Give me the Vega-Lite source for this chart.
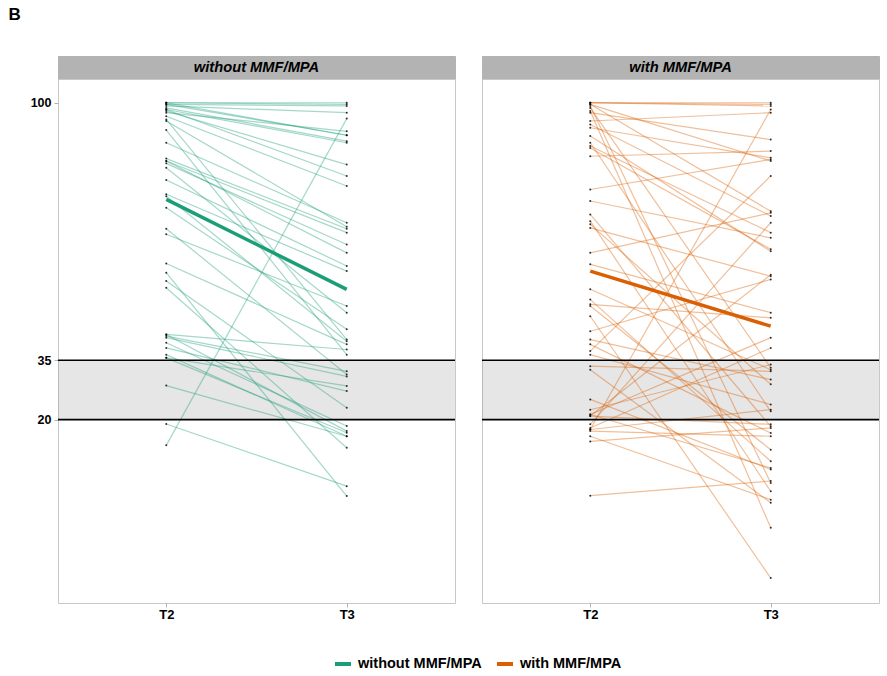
{
  "$schema": "https://vega.github.io/schema/vega-lite/v6.json",
  "background": "white",
  "padding": 5,
  "title": {"text": "B", "anchor": "start", "fontSize": 17, "fontWeight": "bold", "font": "Liberation Sans", "color": "black", "offset": 32, "dx": 3},
  "config": {
    "font": "Liberation Sans",
    "view": {"stroke": "#c8c8c8"},
    "axis": {"gridColor": "#e6e6e6", "domain": false, "title": null}
  },
  "datasets": {
    "lines": [
      {"g": "without MMF/MPA", "id": 1, "T2": 100, "T3": 100},
      {"g": "without MMF/MPA", "id": 2, "T2": 100, "T3": 99.6},
      {"g": "without MMF/MPA", "id": 3, "T2": 100, "T3": 91.8},
      {"g": "without MMF/MPA", "id": 4, "T2": 99.6, "T3": 99.2},
      {"g": "without MMF/MPA", "id": 5, "T2": 99.6, "T3": 91.8},
      {"g": "without MMF/MPA", "id": 6, "T2": 99.2, "T3": 97.5},
      {"g": "without MMF/MPA", "id": 7, "T2": 98.7, "T3": 90.3},
      {"g": "without MMF/MPA", "id": 8, "T2": 98.3, "T3": 89.9},
      {"g": "without MMF/MPA", "id": 9, "T2": 98.3, "T3": 81.5},
      {"g": "without MMF/MPA", "id": 10, "T2": 97.9, "T3": 84.4},
      {"g": "without MMF/MPA", "id": 11, "T2": 97.5, "T3": 92.8},
      {"g": "without MMF/MPA", "id": 12, "T2": 96.6, "T3": 79.0},
      {"g": "without MMF/MPA", "id": 13, "T2": 95.8, "T3": 40.2},
      {"g": "without MMF/MPA", "id": 14, "T2": 95.4, "T3": 68.7},
      {"g": "without MMF/MPA", "id": 15, "T2": 93.1, "T3": 36.4},
      {"g": "without MMF/MPA", "id": 16, "T2": 89.9, "T3": 69.7},
      {"g": "without MMF/MPA", "id": 17, "T2": 85.9, "T3": 68.2},
      {"g": "without MMF/MPA", "id": 18, "T2": 85.3, "T3": 67.2},
      {"g": "without MMF/MPA", "id": 19, "T2": 85.3, "T3": 62.1},
      {"g": "without MMF/MPA", "id": 20, "T2": 84.7, "T3": 64.2},
      {"g": "without MMF/MPA", "id": 21, "T2": 83.6, "T3": 47.0},
      {"g": "without MMF/MPA", "id": 22, "T2": 80.5, "T3": 58.8},
      {"g": "without MMF/MPA", "id": 23, "T2": 76.9, "T3": 57.5},
      {"g": "without MMF/MPA", "id": 24, "T2": 76.4, "T3": 39.8},
      {"g": "without MMF/MPA", "id": 25, "T2": 73.5, "T3": 42.8},
      {"g": "without MMF/MPA", "id": 26, "T2": 68.2, "T3": 31.4},
      {"g": "without MMF/MPA", "id": 27, "T2": 66.8, "T3": 48.7},
      {"g": "without MMF/MPA", "id": 28, "T2": 59.4, "T3": 39.0},
      {"g": "without MMF/MPA", "id": 29, "T2": 57.1, "T3": 0.7},
      {"g": "without MMF/MPA", "id": 30, "T2": 55.0, "T3": 23.0},
      {"g": "without MMF/MPA", "id": 31, "T2": 53.3, "T3": 12.9},
      {"g": "without MMF/MPA", "id": 32, "T2": 41.5, "T3": 37.7},
      {"g": "without MMF/MPA", "id": 33, "T2": 41.5, "T3": 17.1},
      {"g": "without MMF/MPA", "id": 34, "T2": 41.1, "T3": 32.2},
      {"g": "without MMF/MPA", "id": 35, "T2": 40.7, "T3": 30.9},
      {"g": "without MMF/MPA", "id": 36, "T2": 39.4, "T3": 18.4},
      {"g": "without MMF/MPA", "id": 37, "T2": 38.1, "T3": 27.2},
      {"g": "without MMF/MPA", "id": 38, "T2": 36.4, "T3": 15.8},
      {"g": "without MMF/MPA", "id": 39, "T2": 35.6, "T3": 16.7},
      {"g": "without MMF/MPA", "id": 40, "T2": 35.6, "T3": 28.5},
      {"g": "without MMF/MPA", "id": 41, "T2": 28.6, "T3": 15.8},
      {"g": "without MMF/MPA", "id": 42, "T2": 18.9, "T3": 3.2},
      {"g": "without MMF/MPA", "id": 43, "T2": 13.5, "T3": 96.0},
      {"g": "with MMF/MPA", "id": 101, "T2": 100, "T3": 100},
      {"g": "with MMF/MPA", "id": 102, "T2": 100, "T3": 99.6},
      {"g": "with MMF/MPA", "id": 103, "T2": 100, "T3": 99.2},
      {"g": "with MMF/MPA", "id": 104, "T2": 99.6, "T3": 85.3},
      {"g": "with MMF/MPA", "id": 105, "T2": 99.6, "T3": 72.6},
      {"g": "with MMF/MPA", "id": 106, "T2": 99.2, "T3": 4.0},
      {"g": "with MMF/MPA", "id": 107, "T2": 98.7, "T3": 33.1},
      {"g": "with MMF/MPA", "id": 108, "T2": 97.9, "T3": -7.3},
      {"g": "with MMF/MPA", "id": 109, "T2": 97.5, "T3": 90.7},
      {"g": "with MMF/MPA", "id": 110, "T2": 95.4, "T3": 97.5},
      {"g": "with MMF/MPA", "id": 111, "T2": 94.5, "T3": 71.4},
      {"g": "with MMF/MPA", "id": 112, "T2": 93.7, "T3": 86.1},
      {"g": "with MMF/MPA", "id": 113, "T2": 91.6, "T3": 62.5},
      {"g": "with MMF/MPA", "id": 114, "T2": 89.9, "T3": 22.1},
      {"g": "with MMF/MPA", "id": 115, "T2": 89.1, "T3": 67.2},
      {"g": "with MMF/MPA", "id": 116, "T2": 88.6, "T3": 63.0},
      {"g": "with MMF/MPA", "id": 117, "T2": 86.5, "T3": 87.8},
      {"g": "with MMF/MPA", "id": 118, "T2": 78.1, "T3": 85.7},
      {"g": "with MMF/MPA", "id": 119, "T2": 75.2, "T3": 65.9},
      {"g": "with MMF/MPA", "id": 120, "T2": 71.8, "T3": 18.3},
      {"g": "with MMF/MPA", "id": 121, "T2": 70.1, "T3": 1.9},
      {"g": "with MMF/MPA", "id": 122, "T2": 69.3, "T3": 28.9},
      {"g": "with MMF/MPA", "id": 123, "T2": 68.4, "T3": 56.2},
      {"g": "with MMF/MPA", "id": 124, "T2": 62.1, "T3": 72.2},
      {"g": "with MMF/MPA", "id": 125, "T2": 59.2, "T3": 47.0},
      {"g": "with MMF/MPA", "id": 126, "T2": 52.9, "T3": 32.6},
      {"g": "with MMF/MPA", "id": 127, "T2": 50.3, "T3": 9.5},
      {"g": "with MMF/MPA", "id": 128, "T2": 49.1, "T3": 45.7},
      {"g": "with MMF/MPA", "id": 129, "T2": 48.7, "T3": 12.4},
      {"g": "with MMF/MPA", "id": 130, "T2": 46.1, "T3": -20.0},
      {"g": "with MMF/MPA", "id": 131, "T2": 42.3, "T3": 55.4},
      {"g": "with MMF/MPA", "id": 132, "T2": 40.2, "T3": 30.1},
      {"g": "with MMF/MPA", "id": 133, "T2": 39.0, "T3": 16.6},
      {"g": "with MMF/MPA", "id": 134, "T2": 37.3, "T3": 81.5},
      {"g": "with MMF/MPA", "id": 135, "T2": 36.4, "T3": 23.8},
      {"g": "with MMF/MPA", "id": 136, "T2": 33.5, "T3": 32.2},
      {"g": "with MMF/MPA", "id": 137, "T2": 32.6, "T3": -1.0},
      {"g": "with MMF/MPA", "id": 138, "T2": 25.1, "T3": 7.4},
      {"g": "with MMF/MPA", "id": 139, "T2": 22.5, "T3": 33.9},
      {"g": "with MMF/MPA", "id": 140, "T2": 21.3, "T3": 7.8},
      {"g": "with MMF/MPA", "id": 141, "T2": 21.3, "T3": 40.7},
      {"g": "with MMF/MPA", "id": 142, "T2": 20.9, "T3": 56.6},
      {"g": "with MMF/MPA", "id": 143, "T2": 20.9, "T3": 18.8},
      {"g": "with MMF/MPA", "id": 144, "T2": 18.8, "T3": 69.7},
      {"g": "with MMF/MPA", "id": 145, "T2": 17.9, "T3": 38.1},
      {"g": "with MMF/MPA", "id": 146, "T2": 17.5, "T3": 98.3},
      {"g": "with MMF/MPA", "id": 147, "T2": 17.5, "T3": 22.5},
      {"g": "with MMF/MPA", "id": 148, "T2": 17.1, "T3": 15.8},
      {"g": "with MMF/MPA", "id": 149, "T2": 14.5, "T3": 17.9},
      {"g": "with MMF/MPA", "id": 150, "T2": 15.8, "T3": -0.2},
      {"g": "with MMF/MPA", "id": 151, "T2": 0.8, "T3": 4.5}
    ],
    "means": [
      {"g": "without MMF/MPA", "T2": 75.6, "T3": 52.9},
      {"g": "with MMF/MPA", "T2": 57.5, "T3": 43.6}
    ],
    "cutoffs": [{"v": 20}, {"v": 35}]
  },
  "spacing": 23,
  "hconcat": [
    {
      "spacing": 0,
      "bounds": "flush",
      "vconcat": [
        {
          "width": 397,
          "height": 23,
          "view": {"fill": "#b3b3b3", "stroke": "#b3b3b3"},
          "data": {"values": [{"p": "without MMF/MPA"}]},
          "mark": {"type": "text", "font": "Liberation Sans", "fontStyle": "italic", "fontWeight": "bold", "fontSize": 14.7, "color": "black"},
          "encoding": {"text": {"field": "p"}}
        },
        {
          "width": 397,
          "height": 524,
          "layer": [
            {
              "data": {"values": [{}]},
              "mark": {"type": "rect", "color": "#808080", "opacity": 0.2},
              "encoding": {"y": {"datum": 35, "type": "quantitative"}, "y2": {"datum": 20}}
            },
            {
              "data": {"name": "lines"},
              "transform": [{"filter": "datum.g === 'without MMF/MPA'"}, {"fold": ["T2", "T3"], "as": ["time", "value"]}],
              "mark": {"type": "line", "strokeWidth": 1.2, "strokeOpacity": 0.4},
              "encoding": {
                "x": {"field": "time", "type": "ordinal", "scale": {"type": "point", "padding": 0.6, "domain": ["T2", "T3"]},
                  "axis": {"labelFontWeight": "bold", "labelFontSize": 13, "labelColor": "black", "tickColor": "#b3b3b3", "tickSize": 4, "labelPadding": 1, "labelAngle": 0}},
                "y": {"field": "value", "type": "quantitative", "scale": {"domain": [-26.3, 106], "nice": false, "zero": false},
                  "axis": {"values": [5, 12.5, 20, 27.5, 35, 67.5, 100],
                    "labelExpr": "indexof([20, 35, 100], datum.value) >= 0 ? datum.label : ''",
                    "labelFontWeight": "bold", "labelFontSize": 12.5, "labelColor": "black", "labelPadding": 3,
                    "tickColor": "#b3b3b3", "tickSize": 4,
                    "tickOpacity": {"condition": {"test": "indexof([20, 35, 100], datum.value) >= 0", "value": 1}, "value": 0},
                    "gridWidth": {"condition": {"test": "indexof([20, 35, 100], datum.value) >= 0", "value": 1}, "value": 0.7},
                    "minExtent": 52}},
                "detail": {"field": "id"},
                "color": {"field": "g", "type": "nominal", "scale": {"domain": ["without MMF/MPA", "with MMF/MPA"], "range": ["#1b9e77", "#d95f02"]},
                  "legend": {"title": null, "orient": "none", "legendX": 275, "legendY": 598, "direction": "horizontal", "symbolType": "stroke", "symbolStrokeWidth": 4, "symbolSize": 256, "labelOffset": 5, "labelFontWeight": "bold", "labelFontSize": 14.5, "labelColor": "black", "columnPadding": 7,
                    "encode": {"symbols": {"update": {"opacity": {"value": 1}, "strokeOpacity": {"value": 1}}}}}}
              }
            },
            {
              "data": {"name": "lines"},
              "transform": [{"filter": "datum.g === 'without MMF/MPA'"}, {"fold": ["T2", "T3"], "as": ["time", "value"]}],
              "mark": {"type": "point", "filled": true, "size": 4, "color": "black", "opacity": 0.8},
              "encoding": {"x": {"field": "time", "type": "ordinal"}, "y": {"field": "value", "type": "quantitative"}}
            },
            {
              "data": {"name": "means"},
              "transform": [{"filter": "datum.g === 'without MMF/MPA'"}, {"fold": ["T2", "T3"], "as": ["time", "value"]}],
              "mark": {"type": "line", "strokeWidth": 3.5},
              "encoding": {"x": {"field": "time", "type": "ordinal"}, "y": {"field": "value", "type": "quantitative"}, "color": {"field": "g", "type": "nominal"}}
            },
            {
              "data": {"name": "cutoffs"},
              "mark": {"type": "rule", "color": "black", "strokeWidth": 1.6},
              "encoding": {"y": {"field": "v", "type": "quantitative"}}
            }
          ]
        }
      ]
    },
    {
      "spacing": 0,
      "bounds": "flush",
      "vconcat": [
        {
          "width": 397,
          "height": 23,
          "view": {"fill": "#b3b3b3", "stroke": "#b3b3b3"},
          "data": {"values": [{"p": "with MMF/MPA"}]},
          "mark": {"type": "text", "font": "Liberation Sans", "fontStyle": "italic", "fontWeight": "bold", "fontSize": 14.7, "color": "black"},
          "encoding": {"text": {"field": "p"}}
        },
        {
          "width": 397,
          "height": 524,
          "layer": [
            {
              "data": {"values": [{}]},
              "mark": {"type": "rect", "color": "#808080", "opacity": 0.2},
              "encoding": {"y": {"datum": 35, "type": "quantitative"}, "y2": {"datum": 20}}
            },
            {
              "data": {"name": "lines"},
              "transform": [{"filter": "datum.g === 'with MMF/MPA'"}, {"fold": ["T2", "T3"], "as": ["time", "value"]}],
              "mark": {"type": "line", "strokeWidth": 1.2, "strokeOpacity": 0.4},
              "encoding": {
                "x": {"field": "time", "type": "ordinal", "scale": {"type": "point", "padding": 0.6, "domain": ["T2", "T3"]},
                  "axis": {"labelFontWeight": "bold", "labelFontSize": 13, "labelColor": "black", "tickColor": "#b3b3b3", "tickSize": 4, "labelPadding": 1, "labelAngle": 0}},
                "y": {"field": "value", "type": "quantitative", "scale": {"domain": [-26.3, 106], "nice": false, "zero": false},
                  "axis": {"values": [5, 12.5, 20, 27.5, 35, 67.5, 100], "labels": false, "ticks": false, "minExtent": 0, "maxExtent": 0,
                    "gridWidth": {"condition": {"test": "indexof([20, 35, 100], datum.value) >= 0", "value": 1}, "value": 0.7}}},
                "detail": {"field": "id"},
                "color": {"field": "g", "type": "nominal"}
              }
            },
            {
              "data": {"name": "lines"},
              "transform": [{"filter": "datum.g === 'with MMF/MPA'"}, {"fold": ["T2", "T3"], "as": ["time", "value"]}],
              "mark": {"type": "point", "filled": true, "size": 4, "color": "black", "opacity": 0.8},
              "encoding": {"x": {"field": "time", "type": "ordinal"}, "y": {"field": "value", "type": "quantitative"}}
            },
            {
              "data": {"name": "means"},
              "transform": [{"filter": "datum.g === 'with MMF/MPA'"}, {"fold": ["T2", "T3"], "as": ["time", "value"]}],
              "mark": {"type": "line", "strokeWidth": 3.5},
              "encoding": {"x": {"field": "time", "type": "ordinal"}, "y": {"field": "value", "type": "quantitative"}, "color": {"field": "g", "type": "nominal"}}
            },
            {
              "data": {"name": "cutoffs"},
              "mark": {"type": "rule", "color": "black", "strokeWidth": 1.6},
              "encoding": {"y": {"field": "v", "type": "quantitative"}}
            }
          ]
        }
      ]
    }
  ]
}
